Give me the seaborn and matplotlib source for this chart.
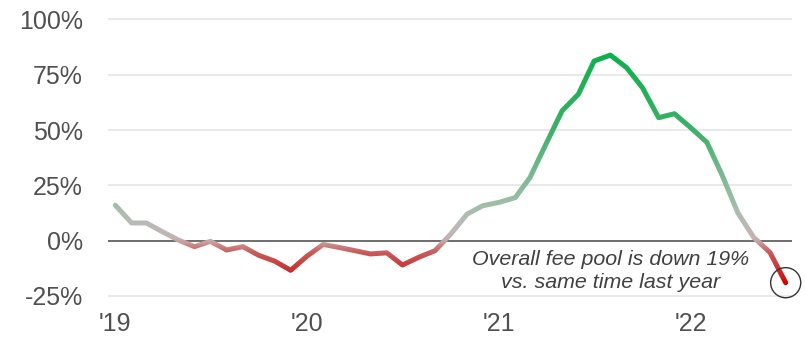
import numpy as np
import pandas as pd
import matplotlib
matplotlib.use("Agg")
import matplotlib.pyplot as plt
import seaborn as sns
from matplotlib.colors import LinearSegmentedColormap
from matplotlib.transforms import Bbox

# ---- data (year-over-year change of fee pool, %, monthly from Jan 2019) ----
values = [16, 8, 8, 4, 0.3, -2.7, -0.3, -4.2, -2.7, -6.6, -9.3, -13.4,
          -7.0, -1.7, -3.0, -4.5, -6.0, -5.5, -11.0, -7.5, -4.5, 3.0, 12.0, 15.8,
          17.3, 19.5, 28.6, 44.0, 58.7, 66.2, 81.2, 83.9, 78.2, 69.2, 55.6, 57.4,
          51.1, 44.4, 30.1, 12.5, 1.5, -5.3, -19.0]
months = pd.date_range("2019-01-01", periods=len(values), freq="MS")
year_ticks = pd.to_datetime(["2019-01-01", "2020-01-01", "2021-01-01", "2022-01-01"])
year_labels = ["'19", "'20", "'21", "'22"]
y_ticks = [-25, 0, 25, 50, 75, 100]
y_labels = ["-25%", "0%", "25%", "50%", "75%", "100%"]
note_lines = ["Overall fee pool is down 19%", "vs. same time last year"]

sns.set_theme(style="white")
plt.rcParams["font.family"] = ["Liberation Sans", "DejaVu Sans"]

W, H = 805, 340
fig = plt.figure(figsize=(W / 100, H / 100), dpi=100)
ax_left, ax_right, ax_top, ax_bottom = 108, 792, 12.86, 302.6
ax = fig.add_axes([ax_left / W, 1 - ax_bottom / H, (ax_right - ax_left) / W, (ax_bottom - ax_top) / H])

LW = 3.6
df = pd.DataFrame({"month": months, "change": values})
sns.lineplot(data=df, x="month", y="change", ax=ax, lw=LW, color="#b8bab8",
             solid_joinstyle="round", solid_capstyle="round", zorder=3)

ax.set_xlim(pd.Timestamp("2018-12-18"), pd.Timestamp("2022-07-13"))
ax.set_ylim(-28, 103)
ax.set_yticks(y_ticks)
ax.set_yticklabels(y_labels)
ax.set_xticks(year_ticks)
ax.set_xticklabels(year_labels)
ax.set_xlabel("")
ax.set_ylabel("")
ax.yaxis.grid(True, color="#e3e3e3", lw=1.1)
ax.xaxis.grid(False)
ax.set_axisbelow(True)
for s in ax.spines.values():
    s.set_visible(False)
ax.tick_params(axis="y", length=0, labelsize=18, labelcolor="#505050", pad=18)
ax.tick_params(axis="x", length=0, labelsize=18, labelcolor="#505050", pad=7)
ax.axhline(0, color="#4d4d4d", lw=1.1, zorder=2)

# vertical colour gradient: red (down) -> grey -> green (up)
vmin, vmax = -20.0, 84.0
anchors = [(-20, "#d40000"), (-12, "#c83838"), (-5, "#c85e5e"), (-1.5, "#c89494"),
           (1, "#c4b2b2"), (8, "#b8bab8"), (16, "#a0bea8"), (30, "#78b890"),
           (50, "#3cb066"), (84, "#0db04c")]
cmap = LinearSegmentedColormap.from_list(
    "fee", [((v - vmin) / (vmax - vmin), c) for v, c in anchors])

base = ax.lines[0]
inv = ax.transData.inverted()
first = True
for py in range(0, H):
    val = inv.transform((0, py + 0.5))[1]
    t = float(min(max((val - vmin) / (vmax - vmin), 0.0), 1.0))
    col = cmap(t)
    box = Bbox([[0, py], [W, py + 1]])
    if first:
        base.set_color(col)
        base.set_clip_box(box)
        first = False
    else:
        ln, = ax.plot(df["month"], df["change"], color=col, lw=LW,
                      solid_joinstyle="round", solid_capstyle="round", zorder=3)
        ln.set_clip_box(box)

ax.scatter([months[-1]], [values[-1]], s=470, facecolors="none",
           edgecolors="#333333", linewidths=1.0, zorder=4, clip_on=False)

fig.text(611 / W, 1 - 265 / H, note_lines[0], ha="center", va="baseline",
         fontsize=15.4, style="italic", color="#404040")
fig.text(611 / W, 1 - 288 / H, note_lines[1], ha="center", va="baseline",
         fontsize=15.4, style="italic", color="#404040")

fig.savefig("out.png", dpi=100, facecolor="white")
